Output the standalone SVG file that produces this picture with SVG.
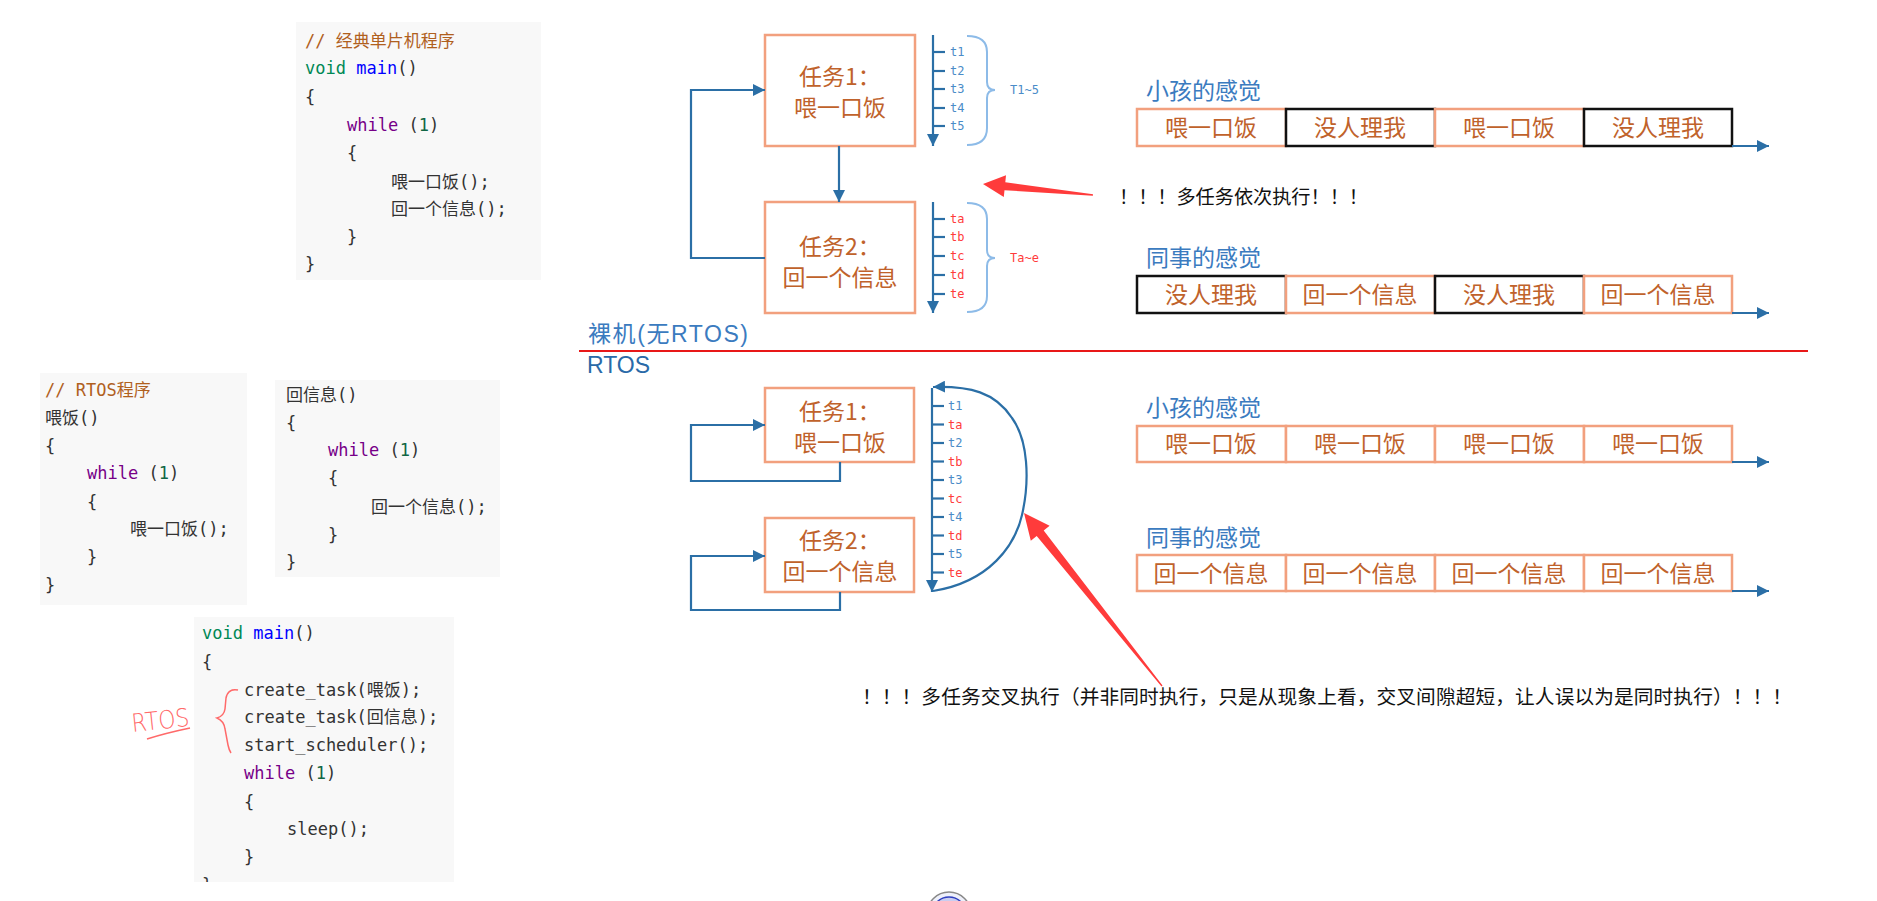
<svg xmlns="http://www.w3.org/2000/svg" width="1877" height="901" viewBox="0 0 1877 901">
<style>
.bg{fill:#f8f8f8}
.code{font-family:"DejaVu Sans Mono","Noto Sans CJK SC",monospace;font-size:17px;fill:#333}
.cm{fill:#b0601e}.ty{fill:#008855}.df{fill:#0000ff}.kw{fill:#770088}.nm{fill:#116644}
.task{fill:#fff;stroke:#f2a07e;stroke-width:2.5}
.tt{font-family:"Noto Sans CJK SC",sans-serif;font-size:23px;fill:#c0622b;text-anchor:middle}
.sal{fill:#fff;stroke:#f2a07e;stroke-width:2.5}
.blk{fill:#fff;stroke:#111;stroke-width:2.5}
.head{font-family:"Noto Sans CJK SC",sans-serif;font-size:23px;fill:#3b7bbf}
.conn{fill:none;stroke:#2b6fa6;stroke-width:2.2}
.tick{stroke:#2b6fa6;stroke-width:2.2}
.tl{font-family:"DejaVu Sans Mono",monospace;font-size:12px}
.tb{fill:#4a8cc8}.tr{fill:#ff3b3b}
.brace{fill:none;stroke:#8dbbe8;stroke-width:2}
.note{font-family:"Noto Sans CJK SC",sans-serif;fill:#111}
.red{fill:#ff3b3b}
</style>
<defs>
<marker id="ah" viewBox="0 0 10 10" refX="10" refY="5" markerWidth="12" markerHeight="12" markerUnits="userSpaceOnUse" orient="auto">
<path d="M0,0 L10,5 L0,10 z" fill="#2b6fa6"/>
</marker>
<clipPath id="c4"><rect x="194" y="616" width="260" height="266"/></clipPath>
</defs>

<!-- code block 1 -->
<g id="code-bare">
<rect class="bg" x="296" y="22" width="245" height="258"/>
<text class="code" x="305" y="47"><tspan class="cm">// 经典单片机程序</tspan></text>
<text class="code" x="305" y="74"><tspan class="ty">void</tspan> <tspan class="df">main</tspan>()</text>
<text class="code" x="305" y="103">{</text>
<text class="code" x="347" y="131"><tspan class="kw">while</tspan> (<tspan class="nm">1</tspan>)</text>
<text class="code" x="347" y="159">{</text>
<text class="code" x="391" y="188">喂一口饭();</text>
<text class="code" x="391" y="215">回一个信息();</text>
<text class="code" x="347" y="243">}</text>
<text class="code" x="305" y="270">}</text>
</g>

<!-- code block 2 -->
<g id="code-feed">
<rect class="bg" x="40" y="373" width="207" height="232"/>
<text class="code" x="45" y="396"><tspan class="cm">// RTOS程序</tspan></text>
<text class="code" x="45" y="424">喂饭()</text>
<text class="code" x="45" y="452">{</text>
<text class="code" x="87" y="479"><tspan class="kw">while</tspan> (<tspan class="nm">1</tspan>)</text>
<text class="code" x="87" y="508">{</text>
<text class="code" x="130" y="535">喂一口饭();</text>
<text class="code" x="87" y="563">}</text>
<text class="code" x="45" y="591">}</text>
</g>

<!-- code block 3 -->
<g id="code-reply">
<rect class="bg" x="275" y="380" width="225" height="197"/>
<text class="code" x="286" y="401">回信息()</text>
<text class="code" x="286" y="429">{</text>
<text class="code" x="328" y="456"><tspan class="kw">while</tspan> (<tspan class="nm">1</tspan>)</text>
<text class="code" x="328" y="484">{</text>
<text class="code" x="371" y="513">回一个信息();</text>
<text class="code" x="328" y="541">}</text>
<text class="code" x="286" y="568">}</text>
</g>

<!-- code block 4 -->
<g id="code-main">
<rect class="bg" x="194" y="617" width="260" height="265"/>
<g clip-path="url(#c4)">
<text class="code" x="202" y="639"><tspan class="ty">void</tspan> <tspan class="df">main</tspan>()</text>
<text class="code" x="202" y="668">{</text>
<text class="code" x="244" y="696">create_task(喂饭);</text>
<text class="code" x="244" y="723">create_task(回信息);</text>
<text class="code" x="244" y="751">start_scheduler();</text>
<text class="code" x="244" y="779"><tspan class="kw">while</tspan> (<tspan class="nm">1</tspan>)</text>
<text class="code" x="244" y="808">{</text>
<text class="code" x="287" y="835">sleep();</text>
<text class="code" x="244" y="863">}</text>
<text class="code" x="202" y="891">}</text>
</g>
</g>

<!-- handwritten note -->
<g id="hand-rtos">
<text x="131" y="729" font-family="DejaVu Sans, sans-serif" font-weight="200" font-size="25" fill="#ff6a6a" textLength="58" lengthAdjust="spacingAndGlyphs" transform="rotate(-6 160 717)">RTOS</text>
<path d="M147 739 Q166 733 190 728" fill="none" stroke="#ff6a6a" stroke-width="1.5"/>
<path d="M238 690 Q228 688 226 698 L225 709 Q224 716 217 718 Q224 721 225 729 L228 745 Q229 750 231 753" fill="none" stroke="#ff6a6a" stroke-width="1.5"/>
</g>

<!-- bare-metal tasks -->
<g id="bare-task1">
<rect class="task" x="765" y="35" width="150" height="111"/>
<text class="tt" x="840" y="85">任务1：</text>
<text class="tt" x="840" y="116">喂一口饭</text>
</g>
<g id="bare-task2">
<rect class="task" x="765" y="202" width="150" height="111"/>
<text class="tt" x="840" y="255">任务2：</text>
<text class="tt" x="840" y="286">回一个信息</text>
</g>

<!-- bare-metal time axes -->
<g id="bare-axis1">
<line class="tick" x1="933" y1="52" x2="945" y2="52"/>
<line class="tick" x1="933" y1="71" x2="945" y2="71"/>
<line class="tick" x1="933" y1="89" x2="945" y2="89"/>
<line class="tick" x1="933" y1="108" x2="945" y2="108"/>
<line class="tick" x1="933" y1="126" x2="945" y2="126"/>
<text class="tl tb" x="950" y="56">t1</text>
<text class="tl tb" x="950" y="75">t2</text>
<text class="tl tb" x="950" y="93">t3</text>
<text class="tl tb" x="950" y="112">t4</text>
<text class="tl tb" x="950" y="130">t5</text>
<path class="brace" d="M967 36 Q987 36 987 52 L987 82 Q987 90 995 90 Q987 90 987 98 L987 128 Q987 145 967 145"/>
<text class="tl tb" x="1010" y="94">T1~5</text>
</g>
<g id="bare-axis2">
<line class="tick" x1="933" y1="219" x2="945" y2="219"/>
<line class="tick" x1="933" y1="237" x2="945" y2="237"/>
<line class="tick" x1="933" y1="256" x2="945" y2="256"/>
<line class="tick" x1="933" y1="275" x2="945" y2="275"/>
<line class="tick" x1="933" y1="294" x2="945" y2="294"/>
<text class="tl tr" x="950" y="223">ta</text>
<text class="tl tr" x="950" y="241">tb</text>
<text class="tl tr" x="950" y="260">tc</text>
<text class="tl tr" x="950" y="279">td</text>
<text class="tl tr" x="950" y="298">te</text>
<path class="brace" d="M967 203 Q987 203 987 219 L987 250 Q987 258 995 258 Q987 258 987 266 L987 296 Q987 312 967 312"/>
<text class="tl tr" x="1010" y="262">Ta~e</text>
</g>

<!-- bare-metal timelines -->
<g id="bare-kid">
<text class="head" x="1146" y="99">小孩的感觉</text>
<rect class="sal" x="1137" y="109" width="149" height="37"/>
<rect class="blk" x="1286" y="109" width="149" height="37"/>
<rect class="sal" x="1435" y="109" width="149" height="37"/>
<rect class="blk" x="1584" y="109" width="148" height="37"/>
<text class="tt" x="1211" y="136">喂一口饭</text>
<text class="tt" x="1360" y="136">没人理我</text>
<text class="tt" x="1509" y="136">喂一口饭</text>
<text class="tt" x="1658" y="136">没人理我</text>
</g>
<g id="bare-colleague">
<text class="head" x="1146" y="266">同事的感觉</text>
<rect class="blk" x="1137" y="276" width="149" height="37"/>
<rect class="sal" x="1286" y="276" width="149" height="37"/>
<rect class="blk" x="1435" y="276" width="149" height="37"/>
<rect class="sal" x="1584" y="276" width="148" height="37"/>
<text class="tt" x="1211" y="303">没人理我</text>
<text class="tt" x="1360" y="303">回一个信息</text>
<text class="tt" x="1509" y="303">没人理我</text>
<text class="tt" x="1658" y="303">回一个信息</text>
</g>

<g id="note-sequential">
<polygon class="red" points="983,184 1006,175.3 1005.3,182.2 1093,194.2 1092.9,195.8 1004.5,190.2 1003.8,197.1"/>
<text class="note" x="1119" y="204" font-size="19.2" textLength="249" lengthAdjust="spacing">！！！多任务依次执行！！！</text>
</g>

<!-- divider -->
<g id="divider">
<text x="588" y="342" font-family="Liberation Sans,Noto Sans CJK SC,sans-serif" font-size="23" fill="#3b7bbf" textLength="160" lengthAdjust="spacing">裸机(无RTOS)</text>
<line x1="579" y1="351" x2="1808" y2="351" stroke="#e81818" stroke-width="2"/>
<text x="587" y="373" font-family="Liberation Sans,sans-serif" font-size="23" fill="#2a6aa8">RTOS</text>
</g>

<!-- RTOS tasks -->
<g id="rtos-task1">
<rect class="task" x="765" y="388" width="149" height="74"/>
<text class="tt" x="840" y="420">任务1：</text>
<text class="tt" x="840" y="451">喂一口饭</text>
</g>
<g id="rtos-task2">
<rect class="task" x="765" y="518" width="149" height="74"/>
<text class="tt" x="840" y="549">任务2：</text>
<text class="tt" x="840" y="580">回一个信息</text>
</g>

<g id="rtos-axis">
<line class="tick" x1="932" y1="406" x2="944" y2="406"/>
<line class="tick" x1="932" y1="424.5" x2="944" y2="424.5"/>
<line class="tick" x1="932" y1="443" x2="944" y2="443"/>
<line class="tick" x1="932" y1="461.5" x2="944" y2="461.5"/>
<line class="tick" x1="932" y1="480" x2="944" y2="480"/>
<line class="tick" x1="932" y1="498.5" x2="944" y2="498.5"/>
<line class="tick" x1="932" y1="517" x2="944" y2="517"/>
<line class="tick" x1="932" y1="535.5" x2="944" y2="535.5"/>
<line class="tick" x1="932" y1="554" x2="944" y2="554"/>
<line class="tick" x1="932" y1="572.5" x2="944" y2="572.5"/>
<text class="tl tb" x="948" y="410">t1</text>
<text class="tl tr" x="948" y="428.5">ta</text>
<text class="tl tb" x="948" y="447">t2</text>
<text class="tl tr" x="948" y="465.5">tb</text>
<text class="tl tb" x="948" y="484">t3</text>
<text class="tl tr" x="948" y="502.5">tc</text>
<text class="tl tb" x="948" y="521">t4</text>
<text class="tl tr" x="948" y="539.5">td</text>
<text class="tl tb" x="948" y="558">t5</text>
<text class="tl tr" x="948" y="576.5">te</text>
</g>

<!-- RTOS timelines -->
<g id="rtos-kid">
<text class="head" x="1146" y="416">小孩的感觉</text>
<rect class="sal" x="1137" y="426" width="149" height="36"/>
<rect class="sal" x="1286" y="426" width="149" height="36"/>
<rect class="sal" x="1435" y="426" width="149" height="36"/>
<rect class="sal" x="1584" y="426" width="148" height="36"/>
<text class="tt" x="1211" y="452">喂一口饭</text>
<text class="tt" x="1360" y="452">喂一口饭</text>
<text class="tt" x="1509" y="452">喂一口饭</text>
<text class="tt" x="1658" y="452">喂一口饭</text>
</g>
<g id="rtos-colleague">
<text class="head" x="1146" y="546">同事的感觉</text>
<rect class="sal" x="1137" y="555" width="149" height="36"/>
<rect class="sal" x="1286" y="555" width="149" height="36"/>
<rect class="sal" x="1435" y="555" width="149" height="36"/>
<rect class="sal" x="1584" y="555" width="148" height="36"/>
<text class="tt" x="1211" y="582">回一个信息</text>
<text class="tt" x="1360" y="582">回一个信息</text>
<text class="tt" x="1509" y="582">回一个信息</text>
<text class="tt" x="1658" y="582">回一个信息</text>
</g>

<g id="note-interleaved">
<polygon class="red" points="1024,513 1049.6,525.8 1043.7,530.5 1162.5,685.6 1161.5,686.4 1036.7,536.1 1030.8,540.8"/>
<text class="note" x="862" y="704" font-size="19.7" textLength="930" lengthAdjust="spacing">！！！多任务交叉执行（并非同时执行，只是从现象上看，交叉间隙超短，让人误以为是同时执行）！！！</text>
</g>

<!-- connectors -->
<g id="connectors">
<path class="conn" d="M839 146 L839 202" marker-end="url(#ah)"/>
<path class="conn" d="M765 258 L691 258 L691 90 L765 90" marker-end="url(#ah)"/>
<path class="conn" d="M933 35 L933 146" marker-end="url(#ah)"/>
<path class="conn" d="M933 202 L933 313" marker-end="url(#ah)"/>
<path class="conn" d="M1732 146 L1769 146" marker-end="url(#ah)"/>
<path class="conn" d="M1732 313 L1769 313" marker-end="url(#ah)"/>
<path class="conn" d="M840 462 L840 481 L691 481 L691 425 L765 425" marker-end="url(#ah)"/>
<path class="conn" d="M840 592 L840 610 L691 610 L691 556 L765 556" marker-end="url(#ah)"/>
<path class="conn" d="M932 388 L932 592" marker-end="url(#ah)"/>
<path class="conn" d="M933 591 C990 582 1015 545 1022 515 C1030 480 1028 440 1012 418 C995 392 970 386 933 387" marker-end="url(#ah)"/>
<path class="conn" d="M1732 462 L1769 462" marker-end="url(#ah)"/>
<path class="conn" d="M1732 591 L1769 591" marker-end="url(#ah)"/>
</g>

<!-- partial logo at bottom -->
<g id="logo">
<circle cx="949" cy="914" r="22" fill="#eef0fa" stroke="#888" stroke-width="1.5"/>
<circle cx="949" cy="914" r="17" fill="#c9cdf0" stroke="#3040c0" stroke-width="1.5"/>
</g>
</svg>
